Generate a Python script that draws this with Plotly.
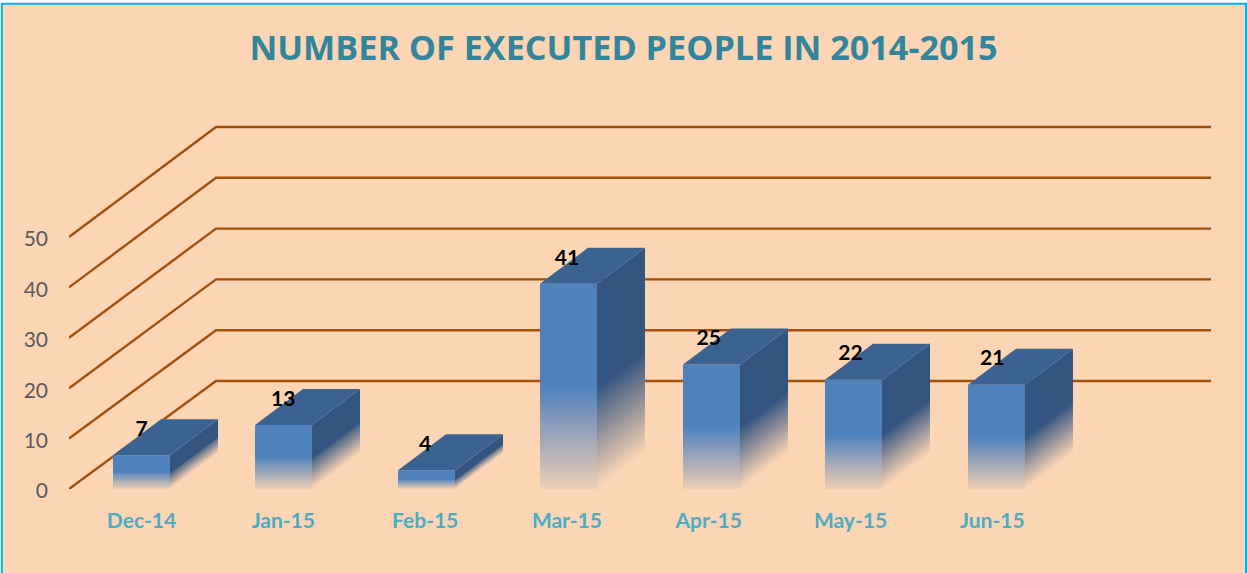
import math
import plotly.graph_objects as go

# ---- data ----
months = ["Dec-14", "Jan-15", "Feb-15", "Mar-15", "Apr-15", "May-15", "Jun-15"]
executed = [7, 13, 4, 41, 25, 22, 21]
grid_values = [0, 10, 20, 30, 40, 50]
chart_title = "NUMBER OF EXECUTED PEOPLE IN 2014-2015"

W, H = 1247, 573
L, R, T, B = 69, 1211, 100, 489          # plot box in pixels
PX_X = 142.5                             # pixels per category
PX_Y = 5.04                              # pixels per value unit
X0 = -(141.5 - L) / PX_X                 # x-range start, category 0 centre at 141.5 px
XR = [X0, X0 + (R - L) / PX_X]
YR = [0, (B - T) / PX_Y]

BAR_W = 57 / PX_X
BAR_DX = 48 / PX_X
BAR_DY = 36 / PX_Y
FLOOR_DX = 147 / PX_X
FLOOR_DY = 108 / PX_Y
BACK_SCALE = 1.008
TOP_TRIM = 0.3
STEPS = 140

FRONT = (79, 129, 189)
TOP = (60, 98, 145)
SIDE = (51, 85, 128)
BG = (252, 213, 181)
GRID = "#A0500F"


def mix(c, a):
    return "rgb(" + ",".join(f"{round(c[j] * a + BG[j] * (1 - a))}" for j in range(3)) + ")"


def poly_trace(xs, ys, color):
    return go.Scatter(x=xs, y=ys, mode="lines", fill="toself", fillcolor=color,
                      line=dict(width=0, simplify=False), hoverinfo="skip",
                      showlegend=False, cliponaxis=False)


def bar_left(i):
    """Left edge of bar i on the scale, snapped so that its edges stay crisp."""
    return X0 + math.floor((i - BAR_W / 2 - X0) * PX_X) / PX_X


def add_band(f_low, f_high, a_front, a_side):
    fx, fy, sx, sy = [], [], [], []
    for i, v in enumerate(executed):
        h = v - TOP_TRIM
        a = bar_left(i)
        b = a + BAR_W
        y0, y1 = h * f_low, h * f_high
        fx += [a, b, b, a, a, None]
        fy += [y0, y0, y1, y1, y0, None]
        sx += [b, b + BAR_DX, b + BAR_DX, b, b, None]
        sy += [y0, y0 + BAR_DY, y1 + BAR_DY, y1, y0, None]
    fig.add_trace(poly_trace(sx, sy, mix(SIDE, a_side)))
    fig.add_trace(poly_trace(fx, fy, mix(FRONT, a_front)))


fig = go.Figure()

# Floor-and-wall gridlines
gx, gy = [], []
for v in grid_values:
    gx += [X0, X0 + FLOOR_DX, XR[1], None]
    back = v * BACK_SCALE + FLOOR_DY
    gy += [v, back, back, None]
fig.add_trace(go.Scatter(x=gx, y=gy, mode="lines", line=dict(color=GRID, width=2.4),
                         hoverinfo="skip", showlegend=False, cliponaxis=False))

# Upper half of each bar is solid; lower half fades, each band overlapped by the next
add_band(0.45, 1, 1, 1)
half = STEPS // 2
for k in range(half, 0, -1):
    mid = (k - 0.5) / STEPS
    add_band(max(0, (k - 2) / STEPS), k / STEPS,
             0.09 + 0.91 * mid / 0.5, mid / 0.5)

# Top faces
tx, ty = [], []
for i, v in enumerate(executed):
    h = v - TOP_TRIM
    a = bar_left(i)
    b = a + BAR_W
    tx += [a, b, b + BAR_DX, a + BAR_DX, a, None]
    ty += [h, h, h + BAR_DY, h + BAR_DY, h, None]
fig.add_trace(poly_trace(tx, ty, mix(TOP, 1)))

# Value labels
LABEL_PITCH = 141.8 / PX_X
fig.add_trace(go.Scatter(
    x=[i * LABEL_PITCH for i in range(len(executed))],
    y=[v + 23 / PX_Y for v in executed],
    mode="text", text=[str(v) for v in executed], textposition="middle center",
    textfont=dict(family="Lato", size=21, color="#000000", weight="bold"),
    hoverinfo="skip", showlegend=False, cliponaxis=False))

fig.update_layout(
    width=W, height=H,
    margin=dict(l=L, r=W - R, t=T, b=H - B, pad=0),
    paper_bgcolor="#FFFFFF",
    plot_bgcolor="rgba(0,0,0,0)",
    showlegend=False,
    title=dict(text=f"<b>{chart_title}</b>", x=623.5 / W, xanchor="center",
               y=1 - 48 / H, yanchor="middle",
               font=dict(family="Open Sans", size=34.2, color="#31859C")),
    xaxis=dict(range=XR, tickmode="array",
               tickvals=[i * LABEL_PITCH for i in range(len(months))], ticktext=months,
               showgrid=False, zeroline=False, showline=False, ticks="",
               ticklabelstandoff=17,
               tickfont=dict(family="Lato", size=21, color="#4BACC6", weight="bold")),
    yaxis=dict(range=YR, tickmode="array", tickvals=grid_values,
               showgrid=False, zeroline=False, showline=False, ticks="",
               ticklabelstandoff=20, ticklabelshift=2,
               tickfont=dict(family="Lato", size=21, color="#595959")),
    shapes=[dict(type="rect", layer="below",
                 xref="x domain", yref="y domain",
                 x0=(1.8 - L) / (R - L), x1=(1246 - L) / (R - L),
                 y0=(B - 600) / (B - T), y1=(B - 3.7) / (B - T),
                 line=dict(color="#00B0F0", width=2), fillcolor="#FCD5B5")],
)

fig.write_html("out.html", config={"displayModeBar": False},
               post_script="document.body.style.margin='0';document.body.style.overflow='hidden';")
